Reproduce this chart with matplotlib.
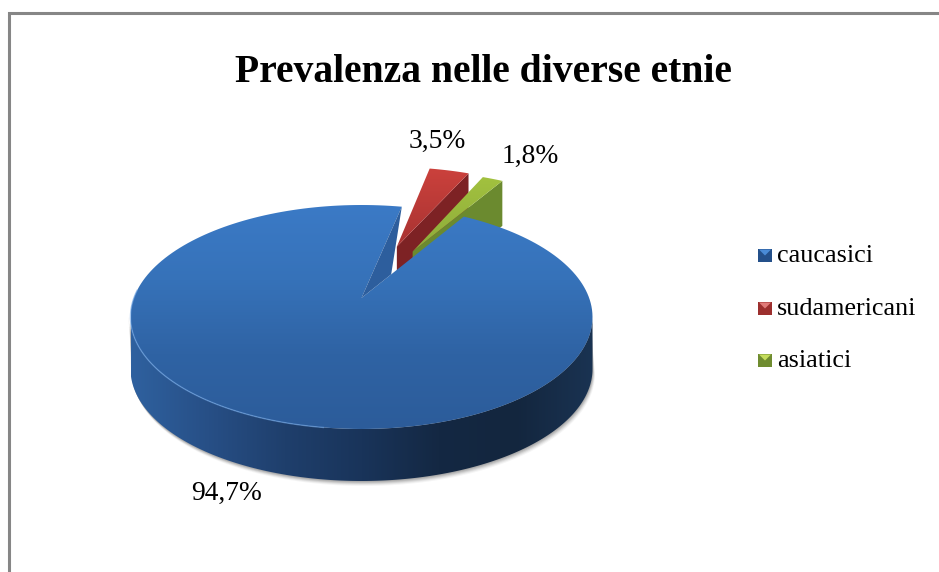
import numpy as np
import matplotlib
matplotlib.use('Agg')
from matplotlib import pyplot as plt
from matplotlib.colors import LinearSegmentedColormap
from matplotlib.patches import Polygon, Rectangle

categories = ['caucasici', 'sudamericani', 'asiatici']
values = [94.7, 3.5, 1.8]
explode = [0, 0.54, 0.52]
title = 'Prevalenza nelle diverse etnie'

# facce superiori, pareti e colori della legenda
top_colors = [None, ('#cb413c', '#a83332'), ('#a2c13f', '#8dab3a')]
wall_colors = [None, '#7d2224', '#6b8a2f']
legend_colors = [('#4a8bd6', '#24508a'), ('#e07a78', '#9c2f2e'), ('#c4dc5c', '#6f8c30')]

# geometria della torta in pixel
cx, cy = 361.5, 317
rx, ry = 231, 112
persp = 0.17
depth = 52

plt.rcParams['font.family'] = ['Liberation Serif', 'DejaVu Serif']

fig = plt.figure(figsize=(9.39, 5.72), dpi=100)
ax = fig.add_axes([0, 0, 1, 1])

# la torta di matplotlib fornisce angoli e centri degli spicchi
wedges, _ = ax.pie(values, explode=explode, startangle=59, counterclock=False, radius=1)
slices = [(w.theta1, w.theta2, w.center) for w in wedges]
for w in wedges:
    w.remove()


def project(u, v, drop=0):
    # proiezione prospettica del disco unitario sul piano dell'immagine
    u = np.asarray(u, dtype=float)
    v = np.asarray(v, dtype=float)
    den = 1 + persp * v
    x = u * np.sqrt(1 - persp ** 2) / den
    y = (v + persp) / den
    return cx + rx * x, cy - ry * y + drop


def rim(theta1, theta2, center=(0, 0), n=200, drop=0):
    t = np.radians(np.linspace(theta1, theta2, n))
    return project(center[0] + np.cos(t), center[1] + np.sin(t), drop)


def slice_poly(theta1, theta2, center, drop=0):
    x, y = rim(theta1, theta2, center, drop=drop)
    ax_, ay_ = project(center[0], center[1], drop)
    return np.column_stack([np.r_[ax_, x], np.r_[ay_, y]])


def gradient(poly, stops, horizontal=False, zorder=2):
    # riempimento sfumato ritagliato sul poligono
    cmap = LinearSegmentedColormap.from_list('g', stops)
    x0, x1 = poly[:, 0].min(), poly[:, 0].max()
    y0, y1 = poly[:, 1].min(), poly[:, 1].max()
    g = np.linspace(0, 1, 256)
    g = g.reshape(1, -1) if horizontal else g.reshape(-1, 1)
    im = ax.imshow(g, cmap=cmap, extent=(x0, x1, y1, y0), aspect='auto', zorder=zorder, origin='upper')
    clip = Polygon(poly, closed=True, transform=ax.transData, fc='none', ec='none')
    ax.add_patch(clip)
    im.set_clip_path(clip)


# spicchi staccati, dal rosso al verde
z = 2
for i in [1, 2]:
    theta1, theta2, center = slices[i]
    top = slice_poly(theta1, theta2, center)
    low = slice_poly(theta1, theta2, center, drop=depth - 7)
    # parete di taglio destra, verso il basso
    apex, corner = top[0], top[1]
    wall = np.array([apex, corner, low[1], low[0]])
    ax.add_patch(Polygon(wall, closed=True, fc=wall_colors[i], ec='none', zorder=z))
    gradient(top, top_colors[i], zorder=z + 1)
    z += 2

# spicchio principale
theta1, theta2, center = slices[0]
ux, uy = rim(theta1, theta2, center, n=600)
front = uy >= cy - 1
fx, fy = ux[front], uy[front]
order = np.argsort(fx)
fx, fy = fx[order], fy[order]

# ombra sotto il bordo
for off, al in [(5, 0.08), (4, 0.12), (3, 0.18), (2, 0.25), (1, 0.3)]:
    shadow = np.column_stack([np.r_[fx - off / 2, fx[::-1] + off / 2], np.r_[fy, fy[::-1] + depth + off]])
    ax.add_patch(Polygon(shadow, closed=True, fc='#808080', alpha=al, ec='none', zorder=z))
z += 1

side = np.column_stack([np.r_[fx, fx[::-1]], np.r_[fy, fy[::-1] + depth]])
gradient(side, ['#2f619f', '#274f86', '#1f3f6c', '#19345a', '#142843', '#13263e', '#1a3352'],
         horizontal=True, zorder=z)
z += 1

top = slice_poly(theta1, theta2, center)
gradient(top, ['#3b7ac6', '#3672b9', '#2f63a4', '#2c5c9a'], zorder=z)
z += 1

# parete interna visibile nel taglio: triangolo fra i due lati del taglio
apex = top[0]
left_rim = top[1]
right_rim = top[-1]
foot = apex + 0.29 * (right_rim - apex)
ax.add_patch(Polygon([apex, left_rim, foot], closed=True, fc='#2d5e9d', ec='none', zorder=z))
z += 1

# riflesso sul bordo anteriore sinistro
hx, hy = rim(176, 262, center, n=120)
ax.plot(hx, hy, color='#6ea4e4', lw=1.0, alpha=0.6, zorder=z)

# etichette dei valori
label_pos = [(227, 493), (437, 141), (530, 156)]
for val, (lx, ly) in zip(values, label_pos):
    ax.text(lx, ly, f'{val:.1f}%'.replace('.', ','), fontsize=19.8, color='black',
            ha='center', va='center', zorder=20)

ax.text(235, 82, title, fontsize=28.5, fontweight='bold', color='black',
        ha='left', va='baseline', zorder=20)

# legenda
legend_y = [255, 308, 360]
for name, (light, dark), ly in zip(categories, legend_colors, legend_y):
    ax.add_patch(Rectangle((758, ly - 6.5), 14, 13, fc=dark, ec='none', zorder=20))
    ax.add_patch(Polygon([(759, ly - 5.5), (771, ly - 5.5), (765, ly + 0.5)], closed=True,
                         fc=light, ec='none', zorder=21))
    ax.text(777, ly + 1, name, fontsize=18.8, color='black', ha='left', va='center', zorder=20)

# cornice grigia in alto e a sinistra
ax.plot([8.5, 8.5, 939], [572, 13, 13], color='#868686', lw=2.2, solid_joinstyle='miter', zorder=1)

ax.set_aspect('auto')
ax.set_xlim(0, 939)
ax.set_ylim(572, 0)
ax.set_axis_off()

plt.savefig('out.png', dpi=100)
